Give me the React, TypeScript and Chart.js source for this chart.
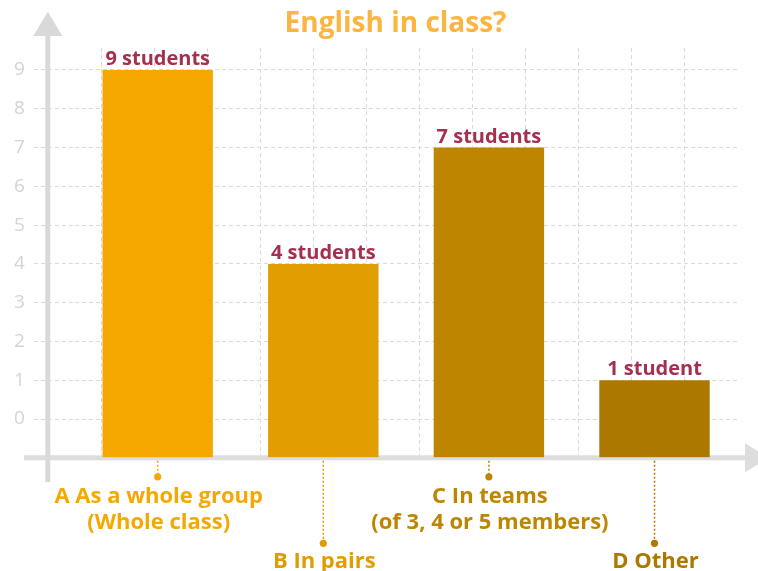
import React, { useEffect, useRef } from "react";
import { Chart, registerables } from "chart.js";

Chart.register(...registerables);

const TITLE = "English in class?";
const categories = ["A", "B", "C", "D"];
const categoryLines = [
  ["A As a whole group", "(Whole class)"],
  ["B In pairs"],
  ["C In teams", "(of 3, 4 or 5 members)"],
  ["D Other"],
];
const categoryLevel = [0, 1, 0, 1];
const studentCounts = [9, 4, 7, 1];
const valueLabels = ["9 students", "4 students", "7 students", "1 student"];
const barColors = ["#F6A800", "#E29D00", "#BE8500", "#AD7800"];
const labelColors = ["#F5A800", "#E09C00", "#BE8500", "#AD7800"];

const FONT = "'Open Sans', 'DejaVu Sans', sans-serif";
const GRID = "#dadada";
const AXIS = "#dddddd";

const decorPlugin = {
  id: "decor",
  beforeDatasetsDraw(chart: any) {
    const { ctx } = chart;
    const y = chart.scales.y;
    const axisY = y.getPixelForValue(-1);
    ctx.save();
    ctx.fillStyle = AXIS;
    // x axis line + arrow
    ctx.fillRect(24, axisY - 2.5, 745 - 24, 5);
    ctx.beginPath();
    ctx.moveTo(745, axisY - 14.5);
    ctx.lineTo(745, axisY + 14.5);
    ctx.lineTo(769, axisY);
    ctx.closePath();
    ctx.fill();
    // y axis line + arrow
    ctx.fillStyle = "#d9d9d9";
    ctx.fillRect(45.3, 36, 5, 482 - 36);
    ctx.beginPath();
    ctx.moveTo(33.3, 36);
    ctx.lineTo(62.3, 36);
    ctx.lineTo(47.8, 11.7);
    ctx.closePath();
    ctx.fill();
    ctx.restore();
  },
  afterDraw(chart: any) {
    const { ctx } = chart;
    const xs = chart.scales.x;
    const y = chart.scales.y;
    const axisY = y.getPixelForValue(-1);
    ctx.save();
    // title
    ctx.fillStyle = "#FBB540";
    ctx.font = `bold 28px ${FONT}`;
    ctx.textAlign = "center";
    ctx.textBaseline = "alphabetic";
    ctx.fillText(TITLE, 395.5, 31.7);

    // value labels
    const meta = chart.getDatasetMeta(0);
    ctx.font = `bold 20px ${FONT}`;
    ctx.fillStyle = "#A3304F";
    meta.data.forEach((bar: any, i: number) => {
      ctx.fillText(valueLabels[i], bar.x, bar.y - 5);
    });

    // category labels
    categories.forEach((_c, i) => {
      const x = xs.getPixelForValue(i);
      const lvl = categoryLevel[i];
      const dotY = axisY + (lvl === 0 ? 19 : 85.5);
      const base = axisY + (lvl === 0 ? 45 : 110);
      ctx.strokeStyle = labelColors[i];
      ctx.fillStyle = labelColors[i];
      ctx.lineWidth = 1.5;
      ctx.setLineDash([2, 2]);
      ctx.beginPath();
      ctx.moveTo(x, axisY + 3);
      ctx.lineTo(x, dotY);
      ctx.stroke();
      ctx.setLineDash([]);
      ctx.beginPath();
      ctx.arc(x, dotY, 3.6, 0, Math.PI * 2);
      ctx.fill();
      ctx.font = `bold 22px ${FONT}`;
      categoryLines[i].forEach((line, k) => {
        ctx.fillText(line, x + 1, base + k * 26.3);
      });
    });
    ctx.restore();
  },
};

export default function App() {
  const ref = useRef<HTMLCanvasElement | null>(null);
  useEffect(() => {
    document.body.style.margin = "0";
    const canvas = ref.current;
    if (!canvas) return;
    const chart = new Chart(canvas, {
      type: "bar",
      data: {
        labels: categories,
        datasets: [
          {
            data: studentCounts,
            base: -1,
            backgroundColor: barColors,
            borderWidth: 0,
            categoryPercentage: 1,
            barPercentage: 2 / 3,
          } as any,
        ],
      },
      options: {
        responsive: false,
        animation: false,
        layout: { padding: { left: 0, top: 48, right: 20.7, bottom: 113.2 } },
        plugins: {
          legend: { display: false },
          tooltip: { enabled: false },
          title: { display: false },
        },
        scales: {
          x: {
            type: "category",
            offset: true,
            grid: { display: false },
            border: { display: false },
            ticks: { display: false },
            afterFit: (s: any) => {
              s.height = 0;
            },
          },
          xg: {
            type: "linear",
            position: "bottom",
            min: 0,
            max: 24,
            ticks: { display: false, stepSize: 1 },
            grid: {
              drawTicks: false,
              lineWidth: 1,
              color: (c: any) =>
                c.tick && Math.round(c.tick.value) % 2 === 1 ? GRID : "rgba(0,0,0,0)",
            },
            border: { display: false, dash: [4, 3] },
            afterFit: (s: any) => {
              s.height = 0;
            },
          },
          y: {
            type: "linear",
            min: -1,
            max: 9.567,
            ticks: {
              stepSize: 1,
              includeBounds: false,
              padding: 9,
              color: "#d4d4d4",
              font: { family: FONT, size: 19 },
              callback: (v: any) => (Number(v) < 0 ? "" : String(v)),
            },
            grid: {
              color: GRID,
              lineWidth: 1,
              tickLength: 41,
              tickColor: GRID,
              tickBorderDash: [4, 3],
            },
            border: { display: false, dash: [4, 3] },
            afterFit: (s: any) => {
              s.width = 74.9;
            },
          } as any,
        },
      } as any,
      plugins: [decorPlugin],
    });
    return () => chart.destroy();
  }, []);
  return (
    <div style={{ width: 758, height: 571 }}>
      <canvas ref={ref} width={758} height={571} style={{ display: "block" }} />
    </div>
  );
}
